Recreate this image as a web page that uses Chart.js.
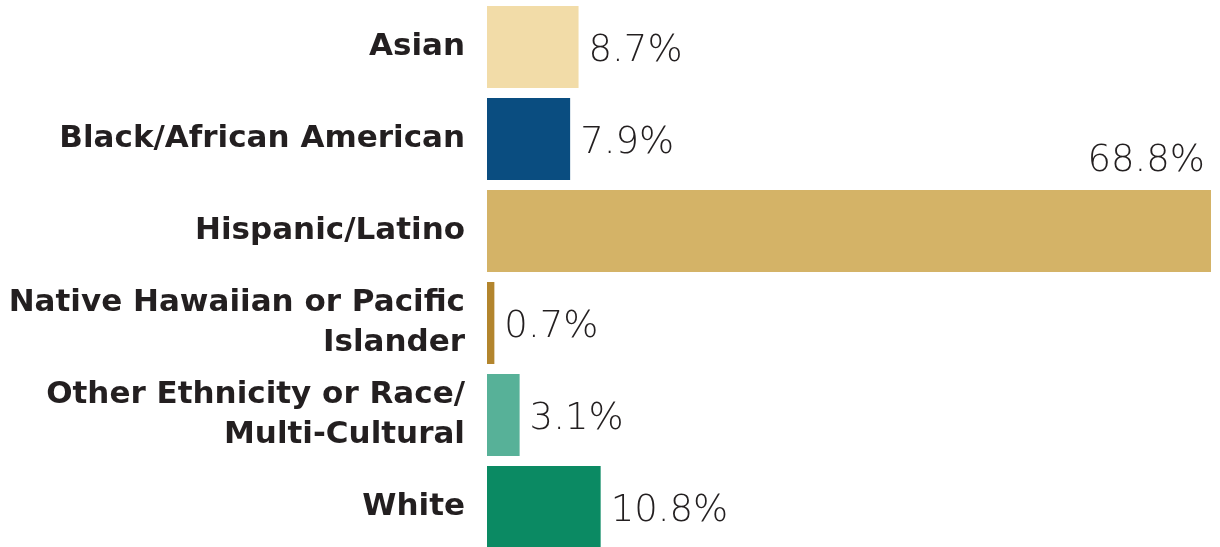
<!DOCTYPE html>
<html>
<head>
<meta charset="utf-8">
<script src="https://cdn.jsdelivr.net/npm/chart.js@4/dist/chart.umd.min.js"></script>
<style>
  html, body { margin: 0; padding: 0; background: #fff; overflow: hidden; }
  #wrap { position: relative; width: 1220px; height: 554px; }
</style>
</head>
<body>
<div id="wrap"><canvas id="ethnicityChart"></canvas></div>
<script>
const categorias = [
  'Asian',
  'Black/African American',
  'Hispanic/Latino',
  ['Native Hawaiian or Pacific', 'Islander'],
  ['Other Ethnicity or Race/', 'Multi-Cultural'],
  'White'
];
const percentuais = [8.7, 7.9, 68.8, 0.7, 3.1, 10.8];
const cores = ['#F2DCA8', '#0A4D80', '#D4B367', '#B3852D', '#57B198', '#0B8A63'];

const textColor = '#231F20';

// value labels at the end of each bar (the long one goes above, right aligned)
const valueLabels = {
  id: 'valueLabels',
  afterDatasetsDraw(chart) {
    const ctx = chart.ctx;
    const meta = chart.getDatasetMeta(0);
    const maxVal = Math.max(...percentuais);
    ctx.save();
    ctx.font = '200 37px "DejaVu Sans", sans-serif';
    ctx.fillStyle = textColor;
    ctx.textBaseline = 'middle';
    meta.data.forEach((bar, i) => {
      const txt = percentuais[i].toFixed(1) + '%';
      if (percentuais[i] === maxVal) {
        ctx.textAlign = 'right';
        ctx.fillText(txt, bar.x - 6, bar.y - bar.height / 2 - 29);
      } else {
        ctx.textAlign = 'left';
        ctx.fillText(txt, bar.x + 10, bar.y + 4);
      }
    });
    ctx.restore();
  }
};

new Chart(document.getElementById('ethnicityChart').getContext('2d'), {
  type: 'bar',
  data: {
    labels: categorias,
    datasets: [{
      data: percentuais,
      backgroundColor: cores,
      borderWidth: 0,
      barPercentage: 0.891,
      categoryPercentage: 1
    }]
  },
  options: {
    indexAxis: 'y',
    responsive: true,
    maintainAspectRatio: false,
    animation: false,
    layout: { padding: { top: 1, bottom: 1, right: 9, left: 0 } },
    plugins: { legend: { display: false }, tooltip: { enabled: false } },
    scales: {
      x: { display: false, min: 0, max: 68.8 },
      y: {
        grid: { display: false, drawTicks: false },
        border: { display: false },
        afterFit: s => { s.width = 487; s.paddingTop = 0; s.paddingBottom = 0; },
        ticks: {
          padding: 22,
          color: textColor,
          font: { family: '"DejaVu Sans"', weight: 'bold', size: 31, lineHeight: '40px' }
        }
      }
    }
  },
  plugins: [valueLabels]
});
</script>
</body>
</html>
